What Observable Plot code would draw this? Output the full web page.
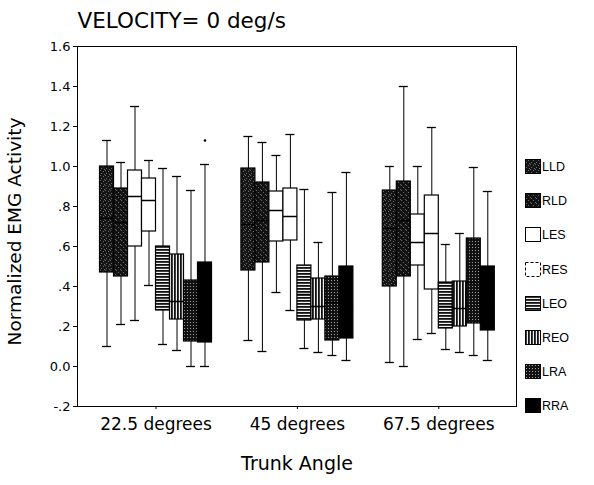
<!DOCTYPE html>
<html>
<head>
<meta charset="utf-8">
<script src="https://cdn.jsdelivr.net/npm/d3@7"></script>
<script src="https://cdn.jsdelivr.net/npm/@observablehq/plot@0.6"></script>
<style>
  body { margin: 0; background: #fff; }
  #wrap { position: relative; width: 594px; height: 485px; font-family: "DejaVu Sans", sans-serif; }
  #legend { position: absolute; left: 0; top: 0; }
  .item { position: absolute; height: 15px; }
  .item svg { position: absolute; left: 0; top: 0; }
  .item span { position: absolute; left: 17px; top: 0; font-family: "Liberation Sans", Arial, sans-serif; font-size: 12.5px; line-height: 16px; color: #000; }
</style>
</head>
<body>
<div id="wrap"></div>
<script>
// ---- data ----
const groups = ["22.5 degrees", "45 degrees", "67.5 degrees"];
const muscles = ["LLD", "RLD", "LES", "RES", "LEO", "REO", "LRA", "RRA"];

// rows: trunk angle groups; columns: muscles in the order above
const whiskerHigh = [
  [1.13, 1.02, 1.30, 1.03, 0.99, 0.95, 0.88, 1.01],
  [1.15, 1.12, 1.055, 1.16, 0.885, 0.62, 0.87, 0.97],
  [1.00, 1.40, 1.00, 1.195, 0.61, 0.665, 0.995, 0.875]
];
const upperQuartile = [
  [1.00, 0.89, 0.98, 0.94, 0.60, 0.56, 0.43, 0.52],
  [0.99, 0.92, 0.875, 0.89, 0.505, 0.44, 0.45, 0.50],
  [0.88, 0.925, 0.76, 0.855, 0.42, 0.425, 0.64, 0.50]
];
const medianValue = [
  [0.74, 0.72, 0.85, 0.83, 0.33, 0.325, 0.29, 0.30],
  [0.71, 0.73, 0.78, 0.75, 0.36, 0.30, 0.32, 0.30],
  [0.69, 0.73, 0.62, 0.665, 0.30, 0.29, 0.42, 0.33]
];
const lowerQuartile = [
  [0.47, 0.45, 0.60, 0.675, 0.28, 0.235, 0.125, 0.12],
  [0.48, 0.52, 0.625, 0.63, 0.23, 0.235, 0.13, 0.14],
  [0.40, 0.45, 0.505, 0.385, 0.19, 0.20, 0.215, 0.18]
];
const whiskerLow = [
  [0.10, 0.21, 0.23, 0.405, 0.11, 0.08, 0.00, 0.00],
  [0.13, 0.075, 0.37, 0.28, 0.09, 0.07, 0.055, 0.03],
  [0.02, 0.00, 0.135, 0.165, 0.085, 0.07, 0.055, 0.03]
];
const outlierGroup = [0];
const outlierMuscle = ["RRA"];
const outlierValue = [1.13];

const yTickValues = [-0.2, 0, 0.2, 0.4, 0.6, 0.8, 1.0, 1.2, 1.4, 1.6];
const yTickLabels = ["-.2", "0.0", ".2", ".4", ".6", ".8", "1.0", "1.2", "1.4", "1.6"];
const xTickValues = [0, 1, 2];

const titleText = "VELOCITY= 0 deg/s";
const yTitle = "Normalized EMG Activity";
const xTitle = "Trunk Angle";

// ---- build tables ----
const BW = 0.099;   // box width in group units
const CAP = 0.032;  // half width of whisker caps
const rows = [];
groups.forEach((g, gi) => muscles.forEach((m, mi) => rows.push({
  group: g, muscle: m, pos: gi + (mi - 3.5) * BW,
  lo: whiskerLow[gi][mi], q1: lowerQuartile[gi][mi], med: medianValue[gi][mi],
  q3: upperQuartile[gi][mi], hi: whiskerHigh[gi][mi]
})));
const outliers = outlierValue.map((v, i) => ({
  pos: outlierGroup[i] + (muscles.indexOf(outlierMuscle[i]) - 3.5) * BW, value: v
}));

const fmtY = d => yTickLabels[yTickValues.findIndex(v => Math.abs(v - d) < 1e-9)];

const chart = Plot.plot({
  width: 594,
  height: 485,
  marginLeft: 77,
  marginRight: 78,
  marginTop: 46,
  marginBottom: 79,
  style: { fontFamily: "'DejaVu Sans', sans-serif", background: "white", overflow: "visible", color: "black" },
  x: { domain: [-0.5552, 2.5495], axis: null },
  y: { domain: [-0.2, 1.6], axis: null },
  color: { type: "identity" },
  marks: [
    Plot.ruleX(rows, { x: "pos", y1: "lo", y2: "q1", stroke: "black", strokeWidth: 1 }),
    Plot.ruleX(rows, { x: "pos", y1: "q3", y2: "hi", stroke: "black", strokeWidth: 1 }),
    Plot.ruleY(rows, { y: "hi", x1: d => d.pos - CAP, x2: d => d.pos + CAP, stroke: "black", strokeWidth: 1.3 }),
    Plot.ruleY(rows, { y: "lo", x1: d => d.pos - CAP, x2: d => d.pos + CAP, stroke: "black", strokeWidth: 1.3 }),
    Plot.rect(rows, {
      x1: d => d.pos - BW / 2, x2: d => d.pos + BW / 2, y1: "q1", y2: "q3",
      fill: d => `url(#pat-${d.muscle})`, stroke: "black", strokeWidth: 1.2
    }),
    Plot.ruleY(rows, { y: "med", x1: d => d.pos - BW / 2, x2: d => d.pos + BW / 2, stroke: "black", strokeWidth: 1.5 }),
    Plot.dot(outliers, { x: "pos", y: "value", r: 1.3, fill: "black" }),
    Plot.frame({ stroke: "black", strokeWidth: 1 }),
    Plot.axisY({ ticks: yTickValues, tickFormat: fmtY, tickSize: 4, tickPadding: 3, fontSize: 13, label: null }),
    Plot.axisX({ ticks: xTickValues, tickFormat: i => groups[i], tickSize: 3, tickPadding: 8, fontSize: 17, label: null }),
    Plot.text([titleText], { frameAnchor: "top-left", textAnchor: "start", lineAnchor: "middle", dy: -25, fontSize: 21.5 }),
    Plot.text([yTitle], { frameAnchor: "left", textAnchor: "middle", lineAnchor: "middle", rotate: -90, dx: -62, dy: 5, fontSize: 18.5 }),
    Plot.text([xTitle], { frameAnchor: "bottom", textAnchor: "middle", lineAnchor: "middle", dy: 57, fontSize: 19 })
  ]
});

// ---- fill patterns ----
const defs = d3.select(chart).insert("defs", ":first-child");
function pat(id, w, h, draw) {
  const p = defs.append("pattern").attr("id", id).attr("patternUnits", "userSpaceOnUse")
    .attr("width", w).attr("height", h);
  draw(p);
}
function dots(p, list, color) {
  list.forEach(([x, y]) => p.append("rect").attr("x", x).attr("y", y).attr("width", 1).attr("height", 1).attr("fill", color));
}
pat("pat-LLD", 5, 5, p => {
  p.append("rect").attr("width", 5).attr("height", 5).attr("fill", "#141414");
  dots(p, [[0,0],[3,1],[1,3],[4,4]], "#6e6e6e");
});
pat("pat-RLD", 5, 5, p => {
  p.append("rect").attr("width", 5).attr("height", 5).attr("fill", "#121212");
  dots(p, [[1,0],[3,2],[0,4]], "#6a6a6a");
});
pat("pat-LES", 4, 4, p => p.append("rect").attr("width", 4).attr("height", 4).attr("fill", "white"));
pat("pat-RES", 4, 4, p => p.append("rect").attr("width", 4).attr("height", 4).attr("fill", "white"));
pat("pat-LEO", 4, 3, p => {
  p.append("rect").attr("width", 4).attr("height", 3).attr("fill", "#f2f2f2");
  p.append("rect").attr("width", 4).attr("height", 1.8).attr("fill", "#111");
});
pat("pat-REO", 3, 4, p => {
  p.append("rect").attr("width", 3).attr("height", 4).attr("fill", "#f2f2f2");
  p.append("rect").attr("width", 1.8).attr("height", 4).attr("fill", "#111");
});
pat("pat-LRA", 3, 3, p => {
  p.append("rect").attr("width", 3).attr("height", 3).attr("fill", "#111");
  p.append("rect").attr("x", 1).attr("y", 1).attr("width", 1).attr("height", 1).attr("fill", "#a0a0a0");
});
pat("pat-RRA", 4, 4, p => p.append("rect").attr("width", 4).attr("height", 4).attr("fill", "#000"));

const wrap = document.getElementById("wrap");
wrap.appendChild(chart);

// ---- legend ----
const legend = d3.select(wrap).append("div").attr("id", "legend");
muscles.forEach((m, i) => {
  const item = legend.append("div").attr("class", "item")
    .style("left", "525px").style("top", (159 + i * 34.2) + "px");
  const s = item.append("svg").attr("width", 17).attr("height", 16);
  s.append("rect").attr("x", 0.5).attr("y", 0.5).attr("width", 15).attr("height", 14)
    .attr("fill", `url(#pat-${m})`).attr("stroke", "black").attr("stroke-width", 1)
    .attr("stroke-dasharray", m === "RES" ? "3,2" : null);
  item.append("span").text(m);
});
</script>
</body>
</html>
